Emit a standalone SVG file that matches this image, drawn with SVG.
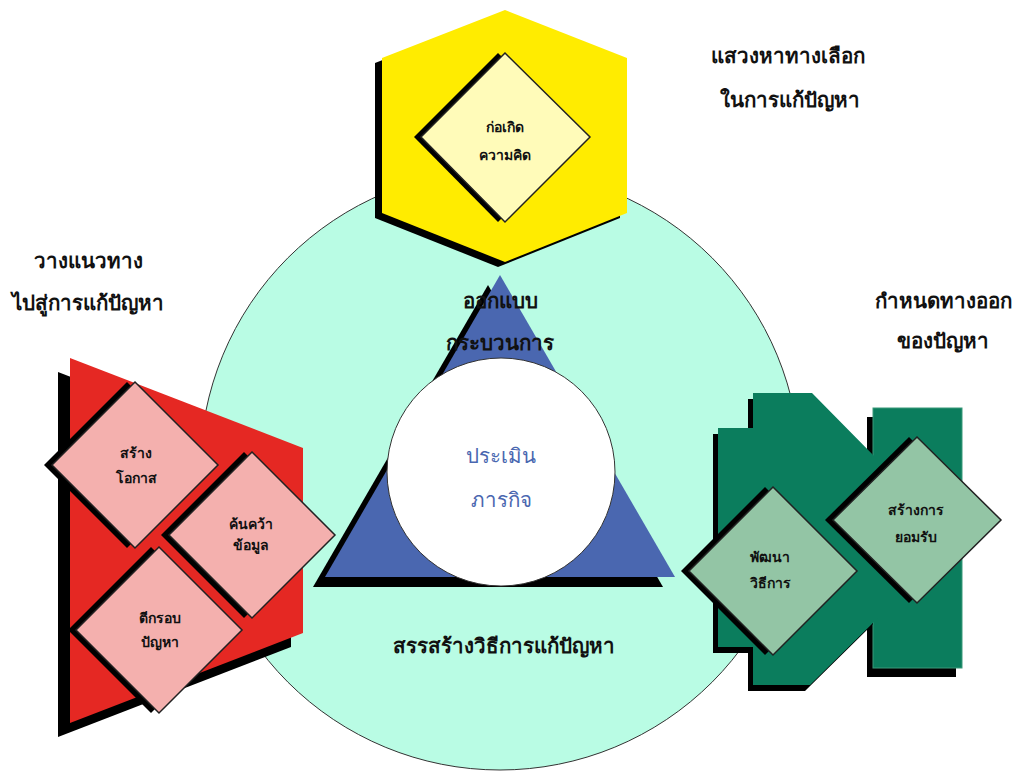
<svg xmlns="http://www.w3.org/2000/svg" width="1016" height="771" viewBox="0 0 1016 771">
<style>
text{font-family:"Noto Sans","DejaVu Sans",sans-serif;text-anchor:middle;fill:#111}
.big{font-size:20.5px;font-weight:600}
.blue{font-size:20.5px;font-weight:500;fill:#4a67b0}
.sm{font-size:14px;font-weight:600}
.sh{fill:#000}
.pink{fill:#f4b0ae;stroke:#222;stroke-width:1.5}
.lg{fill:#93c5a5;stroke:#222;stroke-width:1.5}
.ly{fill:#fffbb9;stroke:#222;stroke-width:1.5}
</style>
<rect width="1016" height="771" fill="#fff"/>
<g id="main-circle">
<circle cx="500" cy="470" r="300" fill="#b9fce4" stroke="#333" stroke-width="1"/>
</g>
<g id="hexagon">
<polygon class="sh" transform="translate(-7,5)" points="505,10 627,58 627,213 505,262 382,213 382,58"/>
<polygon fill="#ffec00" points="505,10 627,58 627,213 505,262 382,213 382,58"/>
<polygon class="sh" transform="translate(-7,0)" points="505,53 590,137 505,222 421,137"/>
<polygon class="ly" points="505,53 590,137 505,222 421,137"/>
<text class="sm" x="505" y="132">ก่อเกิด</text>
<text class="sm" x="505" y="160">ความคิด</text>
</g>
<g id="triangle">
<polygon class="sh" points="488,285 313,587 663,587"/>
<polygon fill="#4a67b0" points="500,275 325,577 675,577"/>
<text class="big" x="500" y="308">ออกแบบ</text>
<text class="big" x="500" y="350">กระบวนการ</text>
</g>
<g id="center">
<circle cx="501" cy="472" r="114" fill="#fff" stroke="#333" stroke-width="1"/>
<text class="blue" x="501" y="463">ประเมิน</text>
<text class="blue" x="501" y="507">ภารกิจ</text>
</g>
<g id="red-panel">
<polygon class="sh" points="58,372 291,462 291,647 58,737"/>
<polygon fill="#e52823" points="70,358 303,448 303,633 70,723"/>
</g>
<g id="node-opportunity">
<polygon class="sh" transform="translate(-8,0)" points="135,382 218,465 135,548 52,465"/>
<polygon class="pink" points="135,382 218,465 135,548 52,465"/>
<text class="sm" x="136" y="458">สร้าง</text>
<text class="sm" x="136" y="483">โอกาส</text>
</g>
<g id="node-research">
<polygon class="sh" transform="translate(-8,0)" points="252,452 335,535 252,618 169,535"/>
<polygon class="pink" points="252,452 335,535 252,618 169,535"/>
<text class="sm" x="251" y="529">ค้นคว้า</text>
<text class="sm" x="251" y="550">ข้อมูล</text>
</g>
<g id="node-frame">
<polygon class="sh" transform="translate(-8,0)" points="159,547 242,630 159,713 76,630"/>
<polygon class="pink" points="159,547 242,630 159,713 76,630"/>
<text class="sm" x="160" y="623">ตีกรอบ</text>
<text class="sm" x="160" y="647">ปัญหา</text>
</g>
<g id="green-panel">
<rect class="sh" x="867" y="417" width="89" height="260"/>
<rect x="873" y="408" width="89" height="260" fill="#0b7d5d" stroke="#3a9a7a" stroke-width="1"/>
<polygon class="sh" transform="translate(-5,6)" points="718,428 753,428 753,393 812,393 878,460 878,618 810,685 753,685 753,647 718,647"/>
<polygon fill="#0b7d5d" points="718,428 753,428 753,393 812,393 878,460 878,618 810,685 753,685 753,647 718,647"/>
</g>
<g id="node-develop">
<polygon class="sh" transform="translate(-8,0)" points="773,487 857,571 773,655 689,571"/>
<polygon class="lg" points="773,487 857,571 773,655 689,571"/>
<text class="sm" x="770" y="562">พัฒนา</text>
<text class="sm" x="770" y="588">วิธีการ</text>
</g>
<g id="node-accept">
<polygon class="sh" transform="translate(-8,0)" points="917,437 1001,520 917,603 833,520"/>
<polygon class="lg" points="917,437 1001,520 917,603 833,520"/>
<text class="sm" x="916" y="515">สร้างการ</text>
<text class="sm" x="916" y="542">ยอมรับ</text>
</g>
<g id="labels">
<text class="big" x="788" y="63">แสวงหาทางเลือก</text>
<text class="big" x="790" y="107">ในการแก้ปัญหา</text>
<text class="big" x="88" y="268">วางแนวทาง</text>
<text class="big" x="88" y="310">ไปสู่การแก้ปัญหา</text>
<text class="big" x="943" y="308">กำหนดทางออก</text>
<text class="big" x="943" y="348">ของปัญหา</text>
<text class="big" x="504" y="653">สรรสร้างวิธีการแก้ปัญหา</text>
</g>
<g id="connectors"></g>
</svg>
